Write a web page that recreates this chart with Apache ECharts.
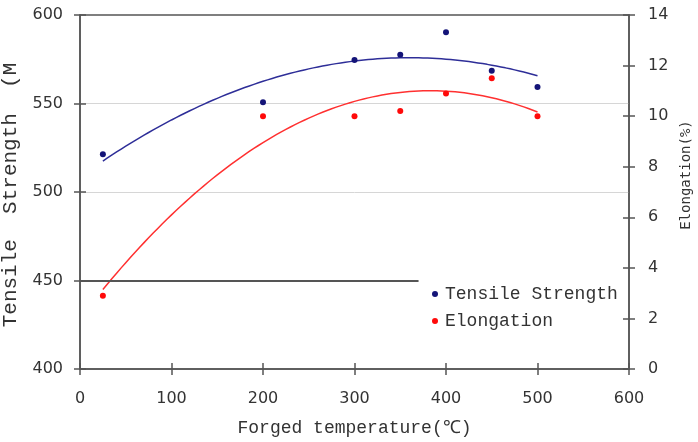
<!DOCTYPE html>
<html>
<head>
<meta charset="utf-8">
<script src="https://cdn.jsdelivr.net/npm/echarts@6/dist/echarts.min.js"></script>
<style>
  html, body { margin: 0; padding: 0; background: #fff; }
  #chart { width: 698px; height: 442px; }
</style>
</head>
<body>
<div id="chart"></div>
<script>
// forged temperature (C)
const temps = [25, 200, 300, 350, 400, 450, 500]
// tensile strength (MPa), left axis
const tensile = [521.3, 550.7, 574.6, 577.5, 590.3, 568.5, 559.3]
// elongation (%), right axis
const elongation = [2.9, 10.0, 10.0, 10.2, 10.9, 11.5, 10.0]
// dark rule left over at 450 on the left axis
const ruleValue = 450
const ruleSpan = [0, 370]

const mono = 'Liberation Mono'
const axisColor = '#555'

// second-order least squares trend, like the spreadsheet trendline
function quadFit(xs, ys) {
  let s = [0, 0, 0, 0, 0], t = [0, 0, 0]
  xs.forEach((x, i) => {
    for (let k = 0; k < 5; k++) s[k] += Math.pow(x, k)
    for (let k = 0; k < 3; k++) t[k] += Math.pow(x, k) * ys[i]
  })
  const m = [
    [s[0], s[1], s[2], t[0]],
    [s[1], s[2], s[3], t[1]],
    [s[2], s[3], s[4], t[2]]
  ]
  for (let i = 0; i < 3; i++) {
    for (let j = i + 1; j < 3; j++) {
      const f = m[j][i] / m[i][i]
      for (let k = i; k < 4; k++) m[j][k] -= f * m[i][k]
    }
  }
  const c = [0, 0, 0]
  for (let i = 2; i >= 0; i--) {
    let v = m[i][3]
    for (let k = i + 1; k < 3; k++) v -= m[i][k] * c[k]
    c[i] = v / m[i][i]
  }
  return (x) => c[0] + c[1] * x + c[2] * x * x
}

function trend(xs, ys) {
  const f = quadFit(xs, ys)
  const out = []
  const lo = Math.min(...xs), hi = Math.max(...xs)
  for (let x = lo; x <= hi; x += 5) out.push([x, f(x)])
  return out
}

const chart = echarts.init(document.getElementById('chart'))

const tickOut = { show: true, inside: false, length: 6, lineStyle: { color: axisColor, width: 1.5 } }
const tickIn = { show: true, inside: true, length: 6, lineStyle: { color: axisColor, width: 1.5 } }
const labelStyle = { color: '#333', fontFamily: 'DejaVu Sans', fontSize: 16 }

const option = {
  animation: false,
  backgroundColor: '#fff',
  grid: {
    left: 80, right: 69, top: 15, bottom: 73,
    containLabel: false,
    outerBoundsMode: 'none',
    show: true,
    borderColor: axisColor,
    borderWidth: 1.5,
    backgroundColor: 'transparent'
  },
  legend: {
    orient: 'vertical',
    left: 427,
    top: 280,
    icon: 'circle',
    itemWidth: 6,
    itemHeight: 6,
    itemGap: 9,
    data: ['Tensile Strength', 'Elongation'],
    textStyle: { fontFamily: mono, fontSize: 18, color: '#333', padding: [0, 0, 0, 2] }
  },
  xAxis: [
    {
      type: 'value', position: 'bottom', min: 0, max: 600, interval: 100,
      name: 'Forged temperature(℃)', nameLocation: 'middle', nameGap: 50,
      nameTextStyle: { fontFamily: mono, fontSize: 18, color: '#333' },
      axisLine: { show: true, lineStyle: { color: axisColor, width: 1.5 } },
      axisTick: tickOut,
      axisLabel: Object.assign({ margin: 22 }, labelStyle),
      splitLine: { show: false }
    },
    {
      type: 'value', position: 'bottom', min: 0, max: 600, interval: 100,
      axisLine: { show: false }, axisTick: tickIn,
      axisLabel: { show: false }, splitLine: { show: false }
    }
  ],
  yAxis: [
    {
      type: 'value', position: 'left', min: 400, max: 600, interval: 50,
      name: 'Tensile  Strength  (M', nameLocation: 'middle', nameGap: 59, nameRotate: 90,
      nameTextStyle: { fontFamily: mono, fontSize: 21, color: '#333', padding: [0, 6, 0, 0] },
      axisLine: { show: true, lineStyle: { color: axisColor, width: 1.5 } },
      axisTick: tickOut,
      axisLabel: Object.assign({ margin: 17 }, labelStyle),
      splitLine: {
        show: true,
        lineStyle: {
          color: ['rgba(0,0,0,0)', 'rgba(0,0,0,0)', '#d6d6d6', '#d6d6d6', 'rgba(0,0,0,0)'],
          width: 1
        }
      }
    },
    {
      type: 'value', position: 'left', min: 400, max: 600, interval: 50,
      axisLine: { show: false }, axisTick: tickIn,
      axisLabel: { show: false }, splitLine: { show: false }
    },
    {
      type: 'value', position: 'right', min: 0, max: 14, interval: 2,
      name: 'Elongation(%)', nameLocation: 'middle', nameGap: 46, nameRotate: 90,
      nameTextStyle: { fontFamily: 'DejaVu Sans Mono', fontSize: 14, color: '#333', padding: [0, 0, 0, 34] },
      axisLine: { show: true, lineStyle: { color: axisColor, width: 1.5 } },
      axisTick: tickOut,
      axisLabel: Object.assign({ margin: 19 }, labelStyle),
      splitLine: { show: false }
    },
    {
      type: 'value', position: 'right', min: 0, max: 14, interval: 2,
      axisLine: { show: false }, axisTick: tickIn,
      axisLabel: { show: false }, splitLine: { show: false }
    }
  ],
  series: [
    {
      name: 'Tensile Strength fit',
      type: 'line',
      yAxisIndex: 0,
      showSymbol: false,
      silent: true,
      lineStyle: { color: '#2e2e98', width: 1.5 },
      data: trend(temps, tensile),
      z: 2
    },
    {
      name: 'Elongation fit',
      type: 'line',
      yAxisIndex: 2,
      showSymbol: false,
      silent: true,
      lineStyle: { color: '#ff3030', width: 1.5 },
      data: trend(temps, elongation),
      z: 2
    },
    {
      name: 'Tensile Strength',
      type: 'scatter',
      yAxisIndex: 0,
      symbolSize: 6,
      itemStyle: { color: '#141478', opacity: 1 },
      data: temps.map((t, i) => [t, tensile[i]]),
      markLine: {
        silent: true,
        symbol: 'none',
        label: { show: false },
        lineStyle: { color: axisColor, width: 2, type: 'solid' },
        data: [[{ coord: [ruleSpan[0], ruleValue] }, { coord: [ruleSpan[1], ruleValue] }]]
      },
      z: 3
    },
    {
      name: 'Elongation',
      type: 'scatter',
      yAxisIndex: 2,
      symbolSize: 6,
      itemStyle: { color: '#ff0a0a', opacity: 1 },
      data: temps.map((t, i) => [t, elongation[i]]),
      z: 3
    }
  ]
}

chart.setOption(option)
</script>
</body>
</html>
